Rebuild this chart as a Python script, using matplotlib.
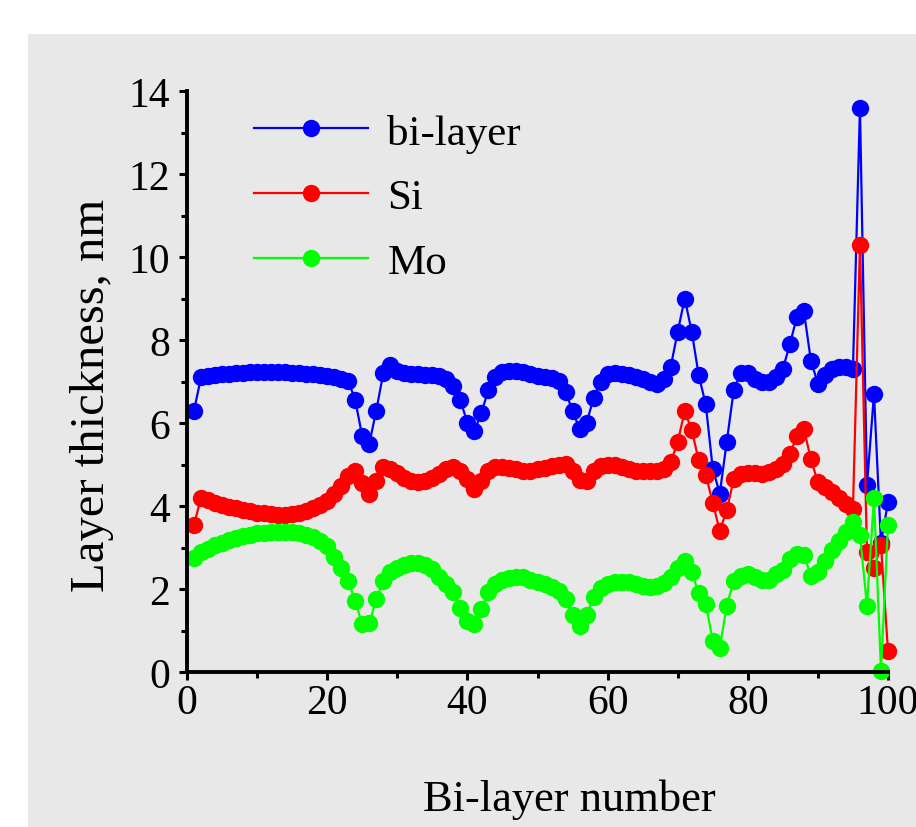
import numpy as np
import matplotlib
matplotlib.use("Agg")
import matplotlib.pyplot as plt
from matplotlib.patches import Rectangle
from matplotlib.ticker import MultipleLocator

plt.rcParams['font.family'] = ['Liberation Serif', 'DejaVu Serif']

PANEL_GRAY = '#e8e8e8'

# Bi-layer index 1..100
layer_number = np.arange(1, 101)

bilayer = [
    6.30, 7.10, 7.13, 7.15, 7.17, 7.19, 7.20, 7.21, 7.22, 7.22,
    7.22, 7.22, 7.22, 7.22, 7.21, 7.20, 7.19, 7.18, 7.16, 7.14,
    7.11, 7.07, 7.02, 6.55, 5.68, 5.50, 6.30, 7.20, 7.40, 7.25,
    7.20, 7.18, 7.17, 7.16, 7.15, 7.13, 7.06, 6.90, 6.55, 6.00,
    5.80, 6.25, 6.80, 7.10, 7.22, 7.26, 7.25, 7.22, 7.18, 7.13,
    7.12, 7.08, 7.02, 6.75, 6.30, 5.85, 6.00, 6.60, 7.00, 7.18,
    7.20, 7.18, 7.15, 7.10, 7.05, 7.00, 6.95, 7.05, 7.35, 8.20,
    9.00, 8.20, 7.15, 6.45, 4.90, 4.30, 5.55, 6.80, 7.20, 7.20,
    7.05, 7.00, 7.00, 7.10, 7.30, 7.90, 8.55, 8.70, 7.50, 6.95,
    7.15, 7.30, 7.35, 7.35, 7.30, 13.60, 4.50, 6.70, 3.10, 4.10,
]

si = [
    3.55, 4.20, 4.15, 4.08, 4.03, 3.98, 3.94, 3.90, 3.87, 3.84,
    3.82, 3.80, 3.79, 3.79, 3.80, 3.83, 3.88, 3.94, 4.02, 4.13,
    4.28, 4.48, 4.72, 4.85, 4.55, 4.30, 4.60, 4.95, 4.90, 4.80,
    4.68, 4.60, 4.58, 4.60, 4.68, 4.78, 4.90, 4.95, 4.85, 4.65,
    4.42, 4.60, 4.85, 4.95, 4.95, 4.92, 4.88, 4.85, 4.85, 4.88,
    4.92, 4.97, 5.00, 5.02, 4.85, 4.62, 4.60, 4.85, 4.97, 5.00,
    4.98, 4.93, 4.88, 4.85, 4.85, 4.85, 4.85, 4.90, 5.05, 5.55,
    6.28, 5.83, 5.10, 4.75, 4.08, 3.40, 3.90, 4.65, 4.78, 4.80,
    4.80, 4.78, 4.82, 4.90, 5.02, 5.25, 5.68, 5.86, 5.13, 4.57,
    4.45, 4.33, 4.20, 4.05, 3.93, 10.30, 2.90, 2.50, 3.05, 0.50,
]

mo = [
    2.75, 2.88, 2.97, 3.05, 3.12, 3.18, 3.23, 3.28, 3.31, 3.34,
    3.36, 3.37, 3.38, 3.38, 3.37, 3.35, 3.31, 3.25, 3.16, 3.03,
    2.78, 2.50, 2.20, 1.70, 1.15, 1.17, 1.75, 2.20, 2.40, 2.50,
    2.58, 2.63, 2.63, 2.58, 2.48, 2.30, 2.12, 1.92, 1.55, 1.22,
    1.15, 1.52, 1.92, 2.12, 2.22, 2.27, 2.30, 2.28, 2.22, 2.17,
    2.12, 2.05, 1.95, 1.75, 1.38, 1.10, 1.38, 1.80, 2.02, 2.12,
    2.16, 2.17, 2.16, 2.12, 2.08, 2.06, 2.08, 2.15, 2.28, 2.50,
    2.68, 2.40, 1.90, 1.65, 0.75, 0.58, 1.60, 2.20, 2.32, 2.36,
    2.30, 2.22, 2.22, 2.35, 2.45, 2.72, 2.85, 2.82, 2.32, 2.42,
    2.68, 2.95, 3.15, 3.38, 3.62, 3.30, 1.60, 4.20, 0.03, 3.55,
]

series = [
    ('bi-layer', bilayer, '#0000ff'),
    ('Si', si, '#ff0000'),
    ('Mo', mo, '#00ff00'),
]

fig = plt.figure(figsize=(9.16, 8.28), dpi=100)
fig.patch.set_facecolor('white')
# gray backdrop panel behind the plot
fig.patches.append(Rectangle((28 / 916, 0), 1.0, 793 / 828, transform=fig.transFigure,
                             facecolor=PANEL_GRAY, edgecolor='none', zorder=-10))

ax = fig.add_axes([187 / 916, 155 / 828, 701 / 916, 581 / 828])
ax.set_facecolor('none')

for name, values, color in series:
    ax.plot(layer_number, values, '-o', color=color, lw=1.6, ms=12.5,
            markeredgewidth=0, label=name, clip_on=False)

ax.set_xlim(0, 100)
ax.set_ylim(0, 14)
ax.xaxis.set_major_locator(MultipleLocator(20))
ax.xaxis.set_minor_locator(MultipleLocator(10))
ax.yaxis.set_major_locator(MultipleLocator(2))
ax.yaxis.set_minor_locator(MultipleLocator(1))

for side in ('top', 'right'):
    ax.spines[side].set_visible(False)
for side in ('left', 'bottom'):
    ax.spines[side].set_linewidth(2.8)

ax.tick_params(which='major', direction='out', length=6, width=2.2, labelsize=30, pad=2)
ax.tick_params(which='minor', direction='out', length=4, width=2.2)
ax.tick_params(axis='y', which='major', pad=6)

ax.set_xlabel('Bi-layer number', fontsize=32)
ax.xaxis.set_label_coords(0.546, -0.184)
ax.set_ylabel('Layer thickness, nm', fontsize=35)
ax.yaxis.label.set_va('center')
ax.yaxis.set_label_coords(-0.135, 0.478)

leg = ax.legend(loc='center left', bbox_to_anchor=(0.0956, 0.816), frameon=False,
                fontsize=31, handlelength=2.65, handletextpad=0.45, labelspacing=0.6,
                borderpad=0, borderaxespad=0, numpoints=1)

fig.savefig('out.png', dpi=100, facecolor=fig.get_facecolor())
